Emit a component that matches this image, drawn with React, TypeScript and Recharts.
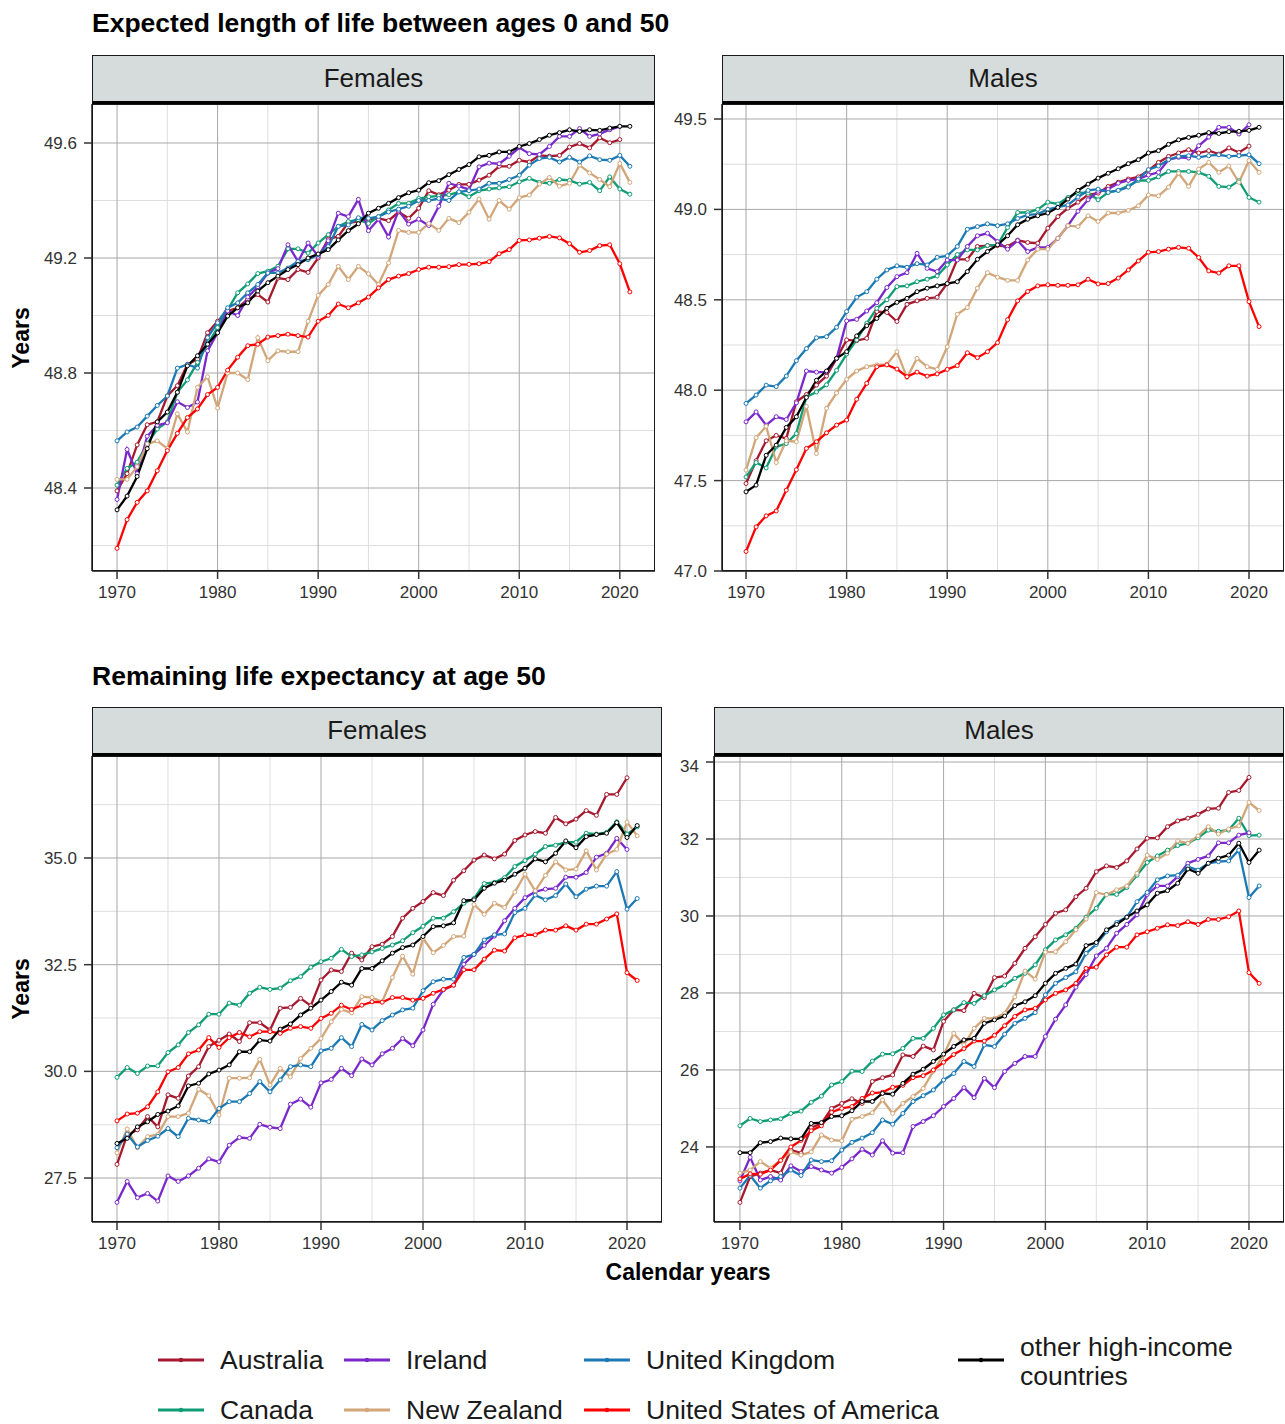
import React from 'react';
import { LineChart, Line, XAxis, YAxis, CartesianGrid } from 'recharts';

const years = Array.from({ length: 52 }, (_, i) => 1970 + i);
const majorYears = [1970, 1980, 1990, 2000, 2010, 2020];
const minorYears = [1975, 1985, 1995, 2005, 2015];

// Expected length of life between ages 0 and 50 - Females
const lenFemAustralia = [48.39, 48.45, 48.55, 48.62, 48.63, 48.72, 48.756, 48.83, 48.848, 48.94, 48.98, 49.016, 49.027, 49.056, 49.073, 49.047, 49.13, 49.125, 49.16, 49.15, 49.2, 49.266, 49.275, 49.323, 49.327, 49.335, 49.338, 49.33, 49.36, 49.338, 49.373, 49.434, 49.42, 49.436, 49.456, 49.456, 49.471, 49.488, 49.519, 49.519, 49.54, 49.534, 49.557, 49.554, 49.557, 49.586, 49.598, 49.583, 49.618, 49.601, 49.612, null];
const lenFemCanada = [48.41, 48.468, 48.49, 48.554, 48.605, 48.63, 48.733, 48.776, 48.837, 48.9, 48.958, 49.02, 49.079, 49.11, 49.146, 49.154, 49.171, 49.232, 49.232, 49.217, 49.252, 49.281, 49.31, 49.327, 49.333, 49.32, 49.344, 49.367, 49.39, 49.39, 49.407, 49.413, 49.416, 49.42, 49.43, 49.413, 49.434, 49.44, 49.444, 49.448, 49.465, 49.477, 49.463, 49.46, 49.473, 49.47, 49.457, 49.463, 49.434, 49.482, 49.44, 49.422];
const lenFemIreland = [48.36, 48.534, 48.45, 48.58, 48.618, 48.627, 48.7, 48.68, 48.699, 48.877, 48.94, 49.016, 49.0, 49.064, 49.1, 49.148, 49.163, 49.246, 49.188, 49.252, 49.206, 49.26, 49.356, 49.344, 49.404, 49.295, 49.335, 49.273, 49.365, 49.318, 49.335, 49.313, 49.38, 49.46, 49.45, 49.438, 49.517, 49.53, 49.528, 49.554, 49.584, 49.563, 49.56, 49.588, 49.623, 49.623, 49.65, 49.623, 49.632, 49.646, 49.658, null];
const lenFemNewZealand = [48.43, 48.43, 48.474, 48.553, 48.564, 48.537, 48.658, 48.595, 48.75, 48.787, 48.678, 48.8, 48.8, 48.777, 48.923, 48.843, 48.877, 48.874, 48.874, 48.98, 49.07, 49.108, 49.171, 49.125, 49.171, 49.145, 49.108, 49.183, 49.296, 49.289, 49.289, 49.32, 49.296, 49.338, 49.323, 49.359, 49.405, 49.335, 49.4, 49.37, 49.41, 49.419, 49.457, 49.48, 49.45, 49.46, 49.523, 49.496, 49.473, 49.448, 49.529, 49.463];
const lenFemUK = [48.564, 48.595, 48.612, 48.65, 48.687, 48.72, 48.817, 48.83, 48.817, 48.923, 48.975, 49.027, 49.044, 49.079, 49.108, 49.148, 49.148, 49.165, 49.188, 49.194, 49.212, 49.24, 49.31, 49.315, 49.34, 49.338, 49.344, 49.36, 49.37, 49.38, 49.4, 49.4, 49.407, 49.4, 49.43, 49.434, 49.44, 49.46, 49.46, 49.473, 49.488, 49.523, 49.546, 49.55, 49.534, 49.55, 49.534, 49.555, 49.542, 49.54, 49.557, 49.519];
const lenFemUSA = [48.19, 48.29, 48.35, 48.39, 48.46, 48.53, 48.59, 48.645, 48.675, 48.725, 48.75, 48.81, 48.855, 48.895, 48.9, 48.925, 48.93, 48.935, 48.93, 48.925, 48.98, 49.0, 49.04, 49.027, 49.044, 49.064, 49.096, 49.125, 49.137, 49.146, 49.16, 49.168, 49.168, 49.17, 49.177, 49.178, 49.18, 49.187, 49.215, 49.229, 49.261, 49.263, 49.269, 49.275, 49.27, 49.25, 49.22, 49.226, 49.243, 49.246, 49.18, 49.082];
const lenFemOther = [48.324, 48.372, 48.44, 48.537, 48.63, 48.664, 48.733, 48.825, 48.86, 48.9, 48.94, 48.998, 49.027, 49.044, 49.085, 49.114, 49.137, 49.16, 49.177, 49.2, 49.214, 49.229, 49.263, 49.295, 49.319, 49.356, 49.373, 49.39, 49.41, 49.427, 49.436, 49.462, 49.469, 49.49, 49.508, 49.525, 49.552, 49.557, 49.569, 49.569, 49.588, 49.598, 49.612, 49.627, 49.636, 49.646, 49.64, 49.646, 49.644, 49.652, 49.658, 49.658];

// Expected length of life between ages 0 and 50 - Males
const lenMalAustralia = [47.484, 47.61, 47.72, 47.75, 47.733, 47.936, 47.976, 48.028, 48.078, 48.176, 48.278, 48.274, 48.287, 48.435, 48.43, 48.38, 48.475, 48.494, 48.508, 48.514, 48.59, 48.724, 48.724, 48.795, 48.8, 48.8, 48.795, 48.83, 48.817, 48.813, 48.896, 48.96, 49.007, 49.04, 49.08, 49.09, 49.127, 49.15, 49.168, 49.18, 49.216, 49.26, 49.293, 49.312, 49.33, 49.312, 49.325, 49.306, 49.34, 49.315, 49.35, null];
const lenMalCanada = [47.52, 47.6, 47.57, 47.687, 47.705, 47.76, 47.963, 47.99, 48.03, 48.11, 48.2, 48.278, 48.37, 48.453, 48.5, 48.573, 48.577, 48.6, 48.614, 48.632, 48.693, 48.75, 48.776, 48.776, 48.8, 48.804, 48.9, 48.983, 48.983, 49.0, 49.04, 49.03, 49.066, 49.094, 49.09, 49.053, 49.094, 49.105, 49.13, 49.16, 49.16, 49.18, 49.21, 49.21, 49.21, 49.205, 49.183, 49.127, 49.123, 49.158, 49.066, 49.04];
const lenMalIreland = [47.825, 47.88, 47.807, 47.853, 47.838, 47.93, 48.106, 48.1, 48.1, 48.176, 48.383, 48.392, 48.438, 48.484, 48.568, 48.628, 48.65, 48.757, 48.674, 48.656, 48.72, 48.72, 48.795, 48.854, 48.868, 48.822, 48.78, 48.828, 48.767, 48.79, 48.79, 48.84, 48.91, 48.99, 49.053, 49.1, 49.112, 49.145, 49.16, 49.168, 49.19, 49.205, 49.275, 49.288, 49.284, 49.352, 49.4, 49.454, 49.454, 49.417, 49.468, null];
const lenMalNewZealand = [47.558, 47.737, 47.8, 47.6, 47.72, 47.715, 47.91, 47.65, 47.9, 47.985, 48.06, 48.106, 48.13, 48.14, 48.143, 48.213, 48.07, 48.176, 48.13, 48.115, 48.24, 48.42, 48.457, 48.564, 48.65, 48.625, 48.607, 48.607, 48.72, 48.78, 48.78, 48.84, 48.91, 48.905, 48.965, 48.933, 48.98, 48.98, 48.994, 49.02, 49.08, 49.075, 49.123, 49.2, 49.127, 49.223, 49.26, 49.205, 49.24, 49.15, 49.27, 49.205];
const lenMalUK = [47.927, 47.973, 48.028, 48.02, 48.078, 48.163, 48.23, 48.29, 48.296, 48.348, 48.435, 48.514, 48.545, 48.614, 48.665, 48.688, 48.68, 48.7, 48.693, 48.735, 48.743, 48.795, 48.89, 48.905, 48.92, 48.91, 48.92, 48.95, 48.97, 48.974, 49.0, 49.013, 49.025, 49.068, 49.105, 49.112, 49.094, 49.105, 49.123, 49.168, 49.22, 49.24, 49.275, 49.293, 49.297, 49.288, 49.297, 49.302, 49.293, 49.297, 49.302, 49.253];
const lenMalUSA = [47.108, 47.244, 47.305, 47.332, 47.447, 47.56, 47.678, 47.715, 47.764, 47.807, 47.835, 47.95, 48.038, 48.13, 48.14, 48.117, 48.075, 48.1, 48.078, 48.09, 48.115, 48.136, 48.207, 48.18, 48.213, 48.263, 48.39, 48.494, 48.546, 48.577, 48.583, 48.58, 48.58, 48.583, 48.614, 48.588, 48.59, 48.62, 48.665, 48.715, 48.763, 48.767, 48.78, 48.79, 48.785, 48.734, 48.66, 48.648, 48.688, 48.688, 48.49, 48.352];
const lenMalOther = [47.438, 47.475, 47.64, 47.696, 47.794, 47.853, 47.96, 48.055, 48.106, 48.176, 48.213, 48.3, 48.357, 48.397, 48.453, 48.486, 48.508, 48.545, 48.564, 48.577, 48.59, 48.6, 48.656, 48.724, 48.767, 48.804, 48.854, 48.915, 48.946, 48.965, 48.98, 49.011, 49.057, 49.105, 49.14, 49.173, 49.2, 49.225, 49.253, 49.275, 49.312, 49.325, 49.36, 49.385, 49.398, 49.41, 49.425, 49.42, 49.43, 49.432, 49.437, 49.454];

// Remaining life expectancy at age 50 - Females
const remFemAustralia = [27.82, 28.51, 28.63, 28.94, 28.7, 29.45, 29.37, 29.89, 30.11, 30.58, 30.73, 30.875, 30.7, 31.14, 31.14, 30.97, 31.48, 31.5, 31.71, 31.54, 32.14, 32.375, 32.34, 32.77, 32.61, 32.92, 32.98, 33.16, 33.59, 33.82, 33.98, 34.19, 34.12, 34.48, 34.7, 34.95, 35.07, 34.98, 35.09, 35.41, 35.54, 35.62, 35.58, 35.95, 35.8, 35.91, 36.11, 36.0, 36.49, 36.49, 36.88, null];
const remFemCanada = [29.86, 30.09, 29.95, 30.125, 30.13, 30.44, 30.62, 30.91, 31.09, 31.34, 31.34, 31.6, 31.55, 31.83, 31.97, 31.92, 31.95, 32.125, 32.22, 32.44, 32.57, 32.65, 32.86, 32.69, 32.73, 32.8, 32.88, 32.96, 33.06, 33.25, 33.4, 33.59, 33.59, 33.74, 33.94, 34.05, 34.4, 34.43, 34.54, 34.8, 34.94, 35.09, 35.27, 35.3, 35.37, 35.37, 35.58, 35.56, 35.6, 35.85, 35.56, 35.73];
const remFemIreland = [26.93, 27.42, 27.04, 27.14, 26.96, 27.55, 27.42, 27.55, 27.73, 27.95, 27.88, 28.27, 28.45, 28.43, 28.76, 28.69, 28.66, 29.23, 29.35, 29.16, 29.73, 29.81, 30.07, 29.9, 30.29, 30.15, 30.41, 30.54, 30.77, 30.6, 30.97, 31.57, 31.91, 32.02, 32.51, 32.74, 32.95, 33.17, 33.53, 33.82, 34.07, 34.21, 34.27, 34.29, 34.55, 34.55, 34.66, 35.02, 35.11, 35.46, 35.2, null];
const remFemNewZealand = [28.09, 28.65, 28.21, 28.47, 28.52, 28.94, 28.94, 29.02, 29.58, 29.43, 28.98, 29.84, 29.84, 29.85, 30.28, 29.68, 30.07, 29.87, 30.3, 30.54, 30.77, 31.16, 31.45, 31.37, 31.75, 31.73, 31.63, 32.2, 32.7, 32.28, 33.12, 32.78, 32.95, 33.16, 33.17, 33.91, 33.68, 33.94, 33.84, 34.2, 34.62, 34.23, 34.59, 34.91, 34.72, 34.74, 35.17, 34.72, 35.09, 35.2, 35.84, 35.52];
const remFemUK = [28.21, 28.53, 28.23, 28.38, 28.48, 28.66, 28.47, 28.9, 28.86, 28.82, 29.13, 29.29, 29.29, 29.48, 29.76, 29.52, 29.8, 30.11, 30.15, 30.11, 30.48, 30.54, 30.79, 30.58, 31.1, 30.97, 31.19, 31.32, 31.44, 31.48, 31.89, 32.1, 32.16, 32.16, 32.67, 32.74, 33.08, 33.2, 33.22, 33.72, 33.82, 34.13, 34.02, 34.12, 34.39, 34.09, 34.27, 34.34, 34.34, 34.68, 33.8, 34.05];
const remFemUSA = [28.84, 29.0, 29.02, 29.17, 29.52, 29.99, 30.09, 30.41, 30.5, 30.79, 30.56, 30.79, 30.91, 30.81, 30.93, 30.93, 30.89, 31.01, 31.05, 31.01, 31.24, 31.36, 31.55, 31.45, 31.55, 31.63, 31.62, 31.73, 31.73, 31.67, 31.71, 31.83, 31.92, 32.02, 32.38, 32.38, 32.63, 32.84, 32.82, 33.13, 33.2, 33.2, 33.31, 33.31, 33.41, 33.31, 33.45, 33.45, 33.57, 33.69, 32.31, 32.13];
const remFemOther = [28.31, 28.43, 28.7, 28.82, 28.99, 29.07, 29.19, 29.66, 29.72, 29.94, 30.03, 30.15, 30.46, 30.46, 30.73, 30.71, 30.99, 31.11, 31.32, 31.48, 31.67, 31.87, 32.09, 32.02, 32.41, 32.41, 32.59, 32.77, 32.9, 32.96, 33.16, 33.39, 33.41, 33.48, 34.0, 34.02, 34.29, 34.41, 34.48, 34.62, 34.76, 34.98, 34.91, 35.11, 35.4, 35.24, 35.5, 35.55, 35.58, 35.83, 35.48, 35.76];

// Remaining life expectancy at age 50 - Males
const remMalAustralia = [22.56, 23.23, 23.32, 23.4, 23.32, 23.92, 23.84, 24.5, 24.61, 25.0, 25.13, 25.25, 25.13, 25.7, 25.8, 25.87, 26.39, 26.35, 26.62, 26.52, 27.26, 27.56, 27.54, 27.99, 27.88, 28.4, 28.44, 28.77, 29.16, 29.46, 29.78, 30.07, 30.16, 30.5, 30.72, 31.15, 31.3, 31.26, 31.43, 31.74, 32.02, 32.03, 32.32, 32.47, 32.54, 32.64, 32.78, 32.8, 33.21, 33.26, 33.6, null];
const remMalCanada = [24.55, 24.74, 24.66, 24.7, 24.73, 24.87, 24.93, 25.16, 25.32, 25.61, 25.7, 25.97, 25.96, 26.23, 26.41, 26.42, 26.56, 26.82, 26.82, 27.08, 27.43, 27.56, 27.75, 27.73, 27.93, 28.08, 28.21, 28.38, 28.51, 28.73, 29.12, 29.38, 29.51, 29.68, 29.97, 30.2, 30.56, 30.56, 30.74, 31.06, 31.39, 31.56, 31.71, 31.83, 31.89, 32.03, 32.23, 32.2, 32.23, 32.54, 32.09, 32.1];
const remMalIreland = [23.12, 23.73, 23.14, 23.23, 23.14, 23.51, 23.36, 23.49, 23.4, 23.32, 23.47, 23.69, 23.94, 23.79, 24.16, 23.84, 23.85, 24.53, 24.66, 24.81, 25.05, 25.26, 25.54, 25.28, 25.78, 25.54, 25.96, 26.17, 26.35, 26.35, 26.87, 27.32, 27.69, 28.15, 28.48, 28.96, 29.16, 29.55, 29.78, 30.03, 30.56, 30.78, 30.78, 31.02, 31.37, 31.47, 31.56, 31.9, 31.9, 32.1, 32.16, null];
const remMalNewZealand = [23.32, 23.4, 23.62, 23.45, 23.66, 23.87, 23.79, 23.87, 24.31, 24.18, 24.16, 24.72, 24.79, 24.89, 25.22, 24.87, 25.13, 25.31, 25.52, 25.97, 26.39, 26.95, 26.65, 27.08, 27.34, 27.34, 27.47, 27.9, 28.57, 28.36, 29.06, 29.07, 29.33, 29.64, 29.92, 30.61, 30.55, 30.68, 30.78, 31.11, 31.58, 31.47, 31.63, 31.95, 31.89, 32.08, 32.32, 32.13, 32.26, 32.34, 32.95, 32.74];
const remMalUK = [22.93, 23.26, 22.93, 23.12, 23.23, 23.4, 23.26, 23.66, 23.62, 23.64, 23.92, 24.12, 24.23, 24.37, 24.7, 24.59, 24.87, 25.18, 25.33, 25.48, 25.74, 25.91, 26.22, 26.09, 26.65, 26.61, 26.93, 27.21, 27.34, 27.49, 27.95, 28.25, 28.4, 28.55, 29.03, 29.26, 29.59, 29.83, 29.97, 30.37, 30.61, 30.94, 31.04, 31.06, 31.28, 31.19, 31.37, 31.41, 31.43, 31.71, 30.48, 30.78];
const remMalUSA = [23.17, 23.3, 23.29, 23.4, 23.65, 24.0, 24.17, 24.42, 24.55, 24.9, 25.0, 25.05, 25.26, 25.4, 25.42, 25.55, 25.6, 25.8, 25.85, 26.0, 26.2, 26.4, 26.55, 26.75, 26.75, 26.9, 27.15, 27.39, 27.56, 27.6, 27.82, 27.99, 28.08, 28.25, 28.64, 28.67, 28.99, 29.19, 29.19, 29.51, 29.59, 29.68, 29.77, 29.75, 29.85, 29.78, 29.91, 29.91, 29.98, 30.13, 28.53, 28.25];
const remMalOther = [23.85, 23.85, 24.11, 24.14, 24.23, 24.21, 24.21, 24.61, 24.63, 24.79, 24.81, 24.94, 25.18, 25.18, 25.39, 25.37, 25.65, 25.89, 26.02, 26.22, 26.41, 26.61, 26.78, 26.82, 27.21, 27.3, 27.4, 27.67, 27.77, 27.93, 28.25, 28.51, 28.64, 28.75, 29.23, 29.31, 29.64, 29.78, 29.97, 30.13, 30.29, 30.59, 30.66, 30.85, 31.22, 31.11, 31.37, 31.5, 31.58, 31.89, 31.39, 31.71];

const countries = [
  { key: 'Australia', color: '#a6192e' },
  { key: 'Canada', color: '#0f9d74' },
  { key: 'Ireland', color: '#7a28cb' },
  { key: 'New Zealand', color: '#d2a679' },
  { key: 'United Kingdom', color: '#1b79b4' },
  { key: 'United States of America', color: '#ff0000' },
  { key: 'other high-income countries', color: '#000000' },
];

const colorOf = (k: string) => countries.find((c) => c.key === k)!.color;

function makeRows(series: (number | null)[][]) {
  return years.map((year, i) => {
    const row: { [key: string]: any } = { year };
    countries.forEach((c, j) => {
      row[c.key] = series[j][i] ?? null;
    });
    return row;
  });
}

const FONT = '"Liberation Sans", Arial, Helvetica, sans-serif';
const Y_AXIS_W = 80;
const X_AXIS_H = 40;
const STRIP_H = 49;

interface PanelProps {
  label: string;
  rows: any[];
  left: number;
  top: number;
  width: number;
  height: number;
  xDomain: [number, number];
  yDomain: [number, number];
  yTicks: number[];
  yMinor: number[];
  fmt: (v: number) => string;
}

const Panel: React.FC<PanelProps> = (p) => {
  const tickStyle = { fill: '#333333', fontSize: 17, fontFamily: FONT };
  return (
    <>
      <div
        style={{
          position: 'absolute',
          left: p.left,
          top: p.top - STRIP_H,
          width: p.width,
          height: STRIP_H,
          boxSizing: 'border-box',
          background: '#d6dbdb',
          border: '1px solid #1a1a1a',
          borderBottom: '3px solid #000',
          display: 'flex',
          alignItems: 'center',
          justifyContent: 'center',
          fontSize: 26,
          color: '#1a1a1a',
          fontFamily: FONT,
        }}
      >
        {p.label}
      </div>
      <div style={{ position: 'absolute', left: p.left - Y_AXIS_W, top: p.top }}>
        <LineChart
          width={p.width + Y_AXIS_W}
          height={p.height + X_AXIS_H}
          data={p.rows}
          margin={{ top: 0, right: 0, bottom: 0, left: 0 }}
        >
          <CartesianGrid stroke="#dedede" strokeWidth={1} horizontalValues={p.yMinor} verticalValues={minorYears} />
          <CartesianGrid stroke="#a8a8a8" strokeWidth={1} horizontalValues={p.yTicks} verticalValues={majorYears} />
          <XAxis
            type="number"
            dataKey="year"
            domain={p.xDomain}
            ticks={majorYears}
            allowDataOverflow
            height={X_AXIS_H}
            tick={tickStyle}
            tickSize={8}
            tickMargin={7}
            axisLine={{ stroke: '#1a1a1a', strokeWidth: 1.5 }}
            tickLine={{ stroke: '#333333', strokeWidth: 1.5 }}
          />
          <YAxis
            type="number"
            domain={p.yDomain}
            ticks={p.yTicks}
            allowDataOverflow
            width={Y_AXIS_W}
            tick={tickStyle}
            tickSize={8}
            tickMargin={7}
            tickFormatter={p.fmt}
            axisLine={{ stroke: '#1a1a1a', strokeWidth: 1.5 }}
            tickLine={{ stroke: '#333333', strokeWidth: 1.5 }}
          />
          {countries.map((c) => (
            <Line
              key={c.key}
              dataKey={c.key}
              type="linear"
              stroke={c.color}
              strokeWidth={2.3}
              dot={{ r: 2, fill: '#ffffff', stroke: c.color, strokeWidth: 1 }}
              activeDot={false}
              isAnimationActive={false}
            />
          ))}
        </LineChart>
      </div>
      <div
        style={{
          position: 'absolute',
          left: p.left,
          top: p.top,
          width: p.width,
          height: p.height,
          boxSizing: 'border-box',
          border: '1px solid #1a1a1a',
          pointerEvents: 'none',
        }}
      />
    </>
  );
};

const LEGEND_FONT = 26.6;

const LegendItem: React.FC<{ k: string; x: number; y: number; text: React.ReactNode }> = ({ k, x, y, text }) => (
  <>
    <svg style={{ position: 'absolute', left: x, top: y - 5 }} width={46} height={10}>
      <line x1={0} y1={5} x2={46} y2={5} stroke={colorOf(k)} strokeWidth={3} />
      <circle cx={23} cy={5} r={2.2} fill={colorOf(k)} />
    </svg>
    <div
      style={{
        position: 'absolute',
        left: x + 62,
        top: y - 12,
        fontSize: LEGEND_FONT,
        lineHeight: '25px',
        fontFamily: FONT,
        color: '#1a1a1a',
        whiteSpace: 'nowrap',
      }}
    >
      {text}
    </div>
  </>
);

const oneDec = (v: number) => v.toFixed(1);
const noDec = (v: number) => String(v);

export default function App() {
  const rowsLenFem = makeRows([lenFemAustralia, lenFemCanada, lenFemIreland, lenFemNewZealand, lenFemUK, lenFemUSA, lenFemOther]);
  const rowsLenMal = makeRows([lenMalAustralia, lenMalCanada, lenMalIreland, lenMalNewZealand, lenMalUK, lenMalUSA, lenMalOther]);
  const rowsRemFem = makeRows([remFemAustralia, remFemCanada, remFemIreland, remFemNewZealand, remFemUK, remFemUSA, remFemOther]);
  const rowsRemMal = makeRows([remMalAustralia, remMalCanada, remMalIreland, remMalNewZealand, remMalUK, remMalUSA, remMalOther]);

  const titleStyle: React.CSSProperties = {
    position: 'absolute',
    left: 92,
    fontSize: 26.5,
    fontWeight: 'bold',
    fontFamily: FONT,
    color: '#000',
    whiteSpace: 'nowrap',
    lineHeight: '30px',
  };
  const yLabel = (cy: number): React.CSSProperties => ({
    position: 'absolute',
    left: 21,
    top: cy,
    transform: 'translate(-50%, -50%) rotate(-90deg)',
    fontSize: 23,
    fontWeight: 'bold',
    fontFamily: FONT,
    whiteSpace: 'nowrap',
  });

  return (
    <div style={{ position: 'absolute', left: 0, top: 0, width: 1285, height: 1424, background: '#fff', overflow: 'hidden' }}>
      <div style={{ ...titleStyle, top: 8 }}>Expected length of life between ages 0 and 50</div>
      <div style={{ ...titleStyle, top: 661 }}>Remaining life expectancy at age 50</div>
      <div style={yLabel(338)}>Years</div>
      <div style={yLabel(989)}>Years</div>

      <Panel
        label="Females"
        rows={rowsLenFem}
        left={92}
        top={104}
        width={563}
        height={467}
        xDomain={[1967.51, 2023.5]}
        yDomain={[48.1113, 49.7357]}
        yTicks={[48.4, 48.8, 49.2, 49.6]}
        yMinor={[48.2, 48.6, 49.0, 49.4]}
        fmt={oneDec}
      />
      <Panel
        label="Males"
        rows={rowsLenMal}
        left={722}
        top={104}
        width={562}
        height={467}
        xDomain={[1967.61, 2023.48]}
        yDomain={[47.0, 49.583]}
        yTicks={[47.0, 47.5, 48.0, 48.5, 49.0, 49.5]}
        yMinor={[47.25, 47.75, 48.25, 48.75, 49.25]}
        fmt={oneDec}
      />
      <Panel
        label="Females"
        rows={rowsRemFem}
        left={92}
        top={756}
        width={570}
        height={466}
        xDomain={[1967.55, 2023.43]}
        yDomain={[26.47, 37.39]}
        yTicks={[27.5, 30.0, 32.5, 35.0]}
        yMinor={[28.75, 31.25, 33.75, 36.25]}
        fmt={oneDec}
      />
      <Panel
        label="Males"
        rows={rowsRemMal}
        left={714}
        top={756}
        width={570}
        height={466}
        xDomain={[1967.45, 2023.44]}
        yDomain={[22.05, 34.156]}
        yTicks={[24, 26, 28, 30, 32, 34]}
        yMinor={[23, 25, 27, 29, 31, 33]}
        fmt={noDec}
      />

      <div
        style={{
          position: 'absolute',
          left: 688,
          top: 1272,
          transform: 'translate(-50%, -50%)',
          fontSize: 23,
          fontWeight: 'bold',
          fontFamily: FONT,
          whiteSpace: 'nowrap',
        }}
      >
        Calendar years
      </div>

      <LegendItem k="Australia" x={158} y={1360} text="Australia" />
      <LegendItem k="Ireland" x={344} y={1360} text="Ireland" />
      <LegendItem k="United Kingdom" x={584} y={1360} text="United Kingdom" />
      <LegendItem k="Canada" x={158} y={1410} text="Canada" />
      <LegendItem k="New Zealand" x={344} y={1410} text="New Zealand" />
      <LegendItem k="United States of America" x={584} y={1410} text="United States of America" />
      <svg style={{ position: 'absolute', left: 958, top: 1355 }} width={46} height={10}>
        <line x1={0} y1={5} x2={46} y2={5} stroke="#000" strokeWidth={3} />
        <circle cx={23} cy={5} r={2.2} fill="#000" />
      </svg>
      <div
        style={{
          position: 'absolute',
          left: 1020,
          top: 1333,
          fontSize: LEGEND_FONT,
          lineHeight: '29px',
          fontFamily: FONT,
          color: '#1a1a1a',
        }}
      >
        other high-income
        <br />
        countries
      </div>
    </div>
  );
}
